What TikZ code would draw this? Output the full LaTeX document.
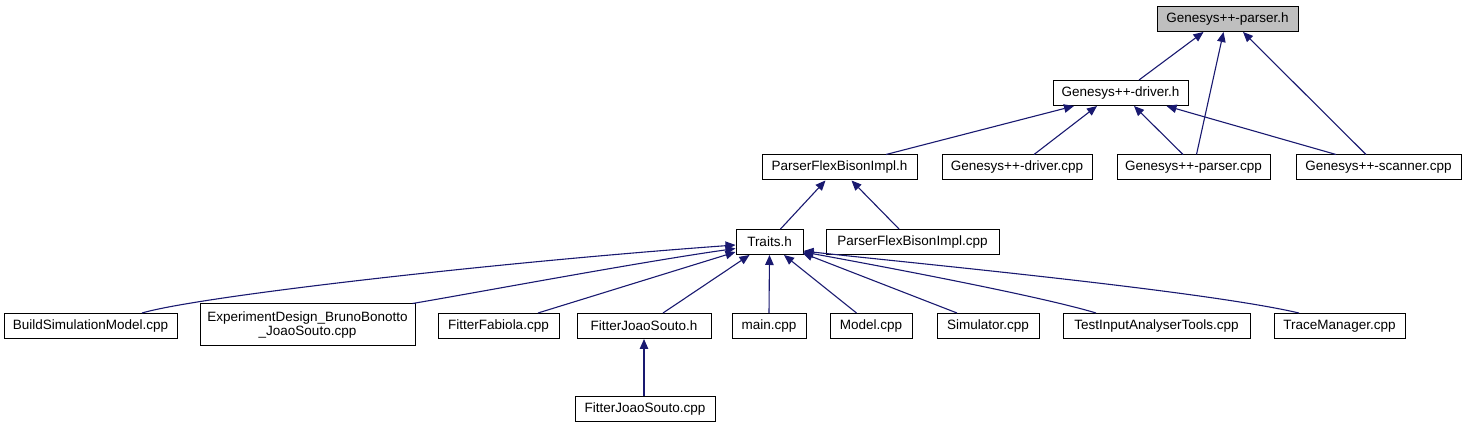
\documentclass[tikz,border=0pt]{standalone}
\usepackage{fontspec}
\setmainfont{Liberation Sans}
\usetikzlibrary{arrows.meta}
\definecolor{edgeblue}{HTML}{191970}
\definecolor{rootgray}{HTML}{BFBFBF}
\tikzset{
  fbox/.style={draw=black, line width=1pt, fill=white, inner sep=0pt, minimum height=25pt,
    font=\fontsize{13.5}{15.5}\selectfont, align=center},
  dep/.style={draw=edgeblue, line width=1.1pt, -{Triangle[length=10pt,width=8.5pt]}, fill=none}
}
\begin{document}
\begin{tikzpicture}[x=1pt,y=-1pt]
\useasboundingbox (0,0) rectangle (1467,427);
% row 0
\node[fbox, fill=rootgray, minimum width=141pt] (ph) at (1227.5,19) {Genesys++-parser.h};
% row 1
\node[fbox, minimum width=135pt] (dh) at (1120.5,93) {Genesys++-driver.h};
% row 2
\node[fbox, minimum width=155pt] (pfh) at (839.5,167.5) {ParserFlexBisonImpl.h};
\node[fbox, minimum width=150pt] (dcpp) at (1017,167.5) {Genesys++-driver.cpp};
\node[fbox, minimum width=153pt] (pcpp) at (1193.5,167.5) {Genesys++-parser.cpp};
\node[fbox, minimum width=165pt] (scpp) at (1378.5,167.5) {Genesys++-scanner.cpp};
% row 3
\node[fbox, minimum width=67pt] (tr) at (769.5,242) {Traits.h};
\node[fbox, minimum width=173pt] (pfcpp) at (912.5,242) {ParserFlexBisonImpl.cpp};
% row 4
\node[fbox, minimum width=173pt] (build) at (90.5,326) {BuildSimulationModel.cpp};
\node[fbox, minimum width=215pt, minimum height=42pt] (exp) at (307.5,325) {ExperimentDesign\_BrunoBonotto\\[-2pt]\_JoaoSouto.cpp};
\node[fbox, minimum width=121pt] (fab) at (498.5,326) {FitterFabiola.cpp};
\node[fbox, minimum width=134pt] (fjh) at (644,326) {FitterJoaoSouto.h};
\node[fbox, minimum width=74pt] (main) at (769,326) {main.cpp};
\node[fbox, minimum width=82pt] (model) at (871,326) {Model.cpp};
\node[fbox, minimum width=102pt] (sim) at (988,326) {Simulator.cpp};
\node[fbox, minimum width=187pt] (test) at (1156.5,326) {TestInputAnalyserTools.cpp};
\node[fbox, minimum width=131pt] (trace) at (1339.5,326) {TraceManager.cpp};
% row 5
\node[fbox, minimum width=140pt] (fjcpp) at (645,409) {FitterJoaoSouto.cpp};

% edges to Genesys++-parser.h
\draw[dep] ([xshift=18.5pt]dh.north) -- ([xshift=-24pt]ph.south);
\draw[dep] ([xshift=3pt]pcpp.north) -- ([xshift=-4pt]ph.south);
\draw[dep] ([xshift=-12.5pt]scpp.north) -- ([xshift=15.5pt]ph.south);
% edges to Genesys++-driver.h
\draw[dep] ([xshift=46.5pt]pfh.north) -- ([xshift=-46.5pt]dh.south);
\draw[dep] ([xshift=17pt]dcpp.north) -- ([xshift=-23.5pt]dh.south);
\draw[dep] ([xshift=-10.5pt]pcpp.north) -- ([xshift=13.5pt]dh.south);
\draw[dep] ([xshift=-42.5pt]scpp.north) -- ([xshift=46pt]dh.south);
% edges to ParserFlexBisonImpl.h
\draw[dep] ([xshift=11pt]tr.north) -- ([xshift=-14pt]pfh.south);
\draw[dep] ([xshift=-13.5pt]pfcpp.north) -- ([xshift=12pt]pfh.south);
% edges to Traits.h
\draw[dep] ([xshift=51.5pt]build.north) .. controls (200,296) and (500,262) .. ([yshift=-3pt]tr.west);
\draw[dep] ([xshift=-3pt]exp.north east) .. controls (480,292) and (640,262) .. ([yshift=-6.5pt]tr.west);
\draw[dep] ([xshift=39.5pt]fab.north) -- ([yshift=-10pt]tr.west);
\draw[dep] ([xshift=19pt]fjh.north) -- ([xshift=-20pt]tr.south);
\draw[dep] (main.north) -- (tr.south);
\draw[dep] ([xshift=-14.5pt]model.north) -- ([xshift=14.5pt]tr.south);
\draw[dep] ([xshift=-31pt]sim.north) -- ([xshift=-1pt,yshift=2pt]tr.south east);
\draw[dep] ([xshift=-60.5pt]test.north) .. controls (1040,296) and (880,266) .. ([yshift=3pt]tr.south east);
\draw[dep] ([xshift=-40.5pt]trace.north) .. controls (1200,290) and (900,262) .. ([yshift=4pt]tr.south east);
% edge to FitterJoaoSouto.h
\draw[dep] (fjcpp.north -| fjh.south) -- (fjh.south);
\end{tikzpicture}
\end{document}
